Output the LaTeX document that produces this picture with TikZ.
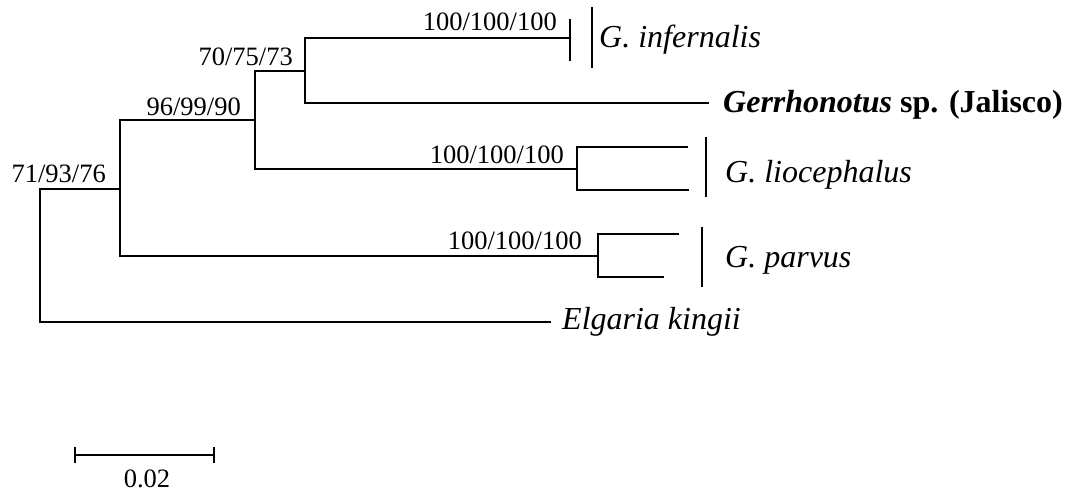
\documentclass[tikz,border=0pt]{standalone}
\usepackage{fontspec}
\setmainfont{Liberation Serif}
\begin{document}
\begin{tikzpicture}[x=1pt,y=-1pt,
  br/.style={line width=2pt,line cap=rect},
  boot/.style={anchor=base east,inner sep=0pt,font=\fontsize{26.5}{30}\selectfont},
  taxon/.style={anchor=base west,inner sep=0pt,font=\fontsize{32}{36}\selectfont},
  cbar/.style={line width=2pt}]
\useasboundingbox (0,0) rectangle (1071,491);
% tree nodes
\coordinate (root) at (40,255);
\coordinate (A) at (120,189);
\coordinate (B) at (255,120);
\coordinate (C) at (305,71);
\coordinate (D) at (577,168.5);
\coordinate (P) at (598,256);
% tips
\coordinate (inf) at (570,38);
\coordinate (ger) at (708,103);
\coordinate (l1) at (687,147);
\coordinate (l2) at (688,190);
\coordinate (p1) at (678,234);
\coordinate (p2) at (663,277);
\coordinate (elg) at (550,322);
% branches
\draw[br] (A) -| (root) |- (elg);
\draw[br] (B) -| (A) |- (P);
\draw[br] (C) -| (B) |- (D);
\draw[br] (inf) -| (C) |- (ger);
\draw[br] (l1) -| (D) |- (l2);
\draw[br] (p1) -| (P) |- (p2);
% collapsed tip tick
\coordinate (infT) at (570,19);
\coordinate (infB) at (570,61);
\draw[br,line cap=butt] (infT) -- (infB);
% support values
\node[boot] (b0) at (106,182) {71/93/76};
\node[boot] (b1) at (241,115) {96/99/90};
\node[boot] (b2) at (293,65) {70/75/73};
\node[boot] (b3) at (557,30) {100/100/100};
\node[boot] (b4) at (564,163) {100/100/100};
\node[boot] (b5) at (582,249) {100/100/100};
% clade bars
\coordinate (cb1t) at (592,7);   \coordinate (cb1b) at (592,68);
\coordinate (cb2t) at (706,137); \coordinate (cb2b) at (706,197);
\coordinate (cb3t) at (702,227); \coordinate (cb3b) at (702,287);
\draw[cbar] (cb1t) -- (cb1b);
\draw[cbar] (cb2t) -- (cb2b);
\draw[cbar] (cb3t) -- (cb3b);
% taxa
\node[taxon] (tinf) at (599,47) {\textit{G. infernalis}};
\node[taxon] (tger) at (723,112) {\textbf{\textit{Gerrhonotus} sp. (Jalisco)}};
\node[taxon] (tlio) at (725,182) {\textit{G. liocephalus}};
\node[taxon] (tpar) at (725,267) {\textit{G. parvus}};
\node[taxon] (telg) at (562,329) {\textit{Elgaria kingii}};
% scale bar
\coordinate (sL) at (75,455);
\coordinate (sR) at (214,455);
\draw[cbar] (sL) -- (sR);
\draw[cbar] ([yshift=8pt]sL) -- ([yshift=-8pt]sL);
\draw[cbar] ([yshift=8pt]sR) -- ([yshift=-8pt]sR);
\node[anchor=base,inner sep=0pt,font=\fontsize{26.5}{30}\selectfont] (sc) at (147,487) {0.02};
\end{tikzpicture}
\end{document}
